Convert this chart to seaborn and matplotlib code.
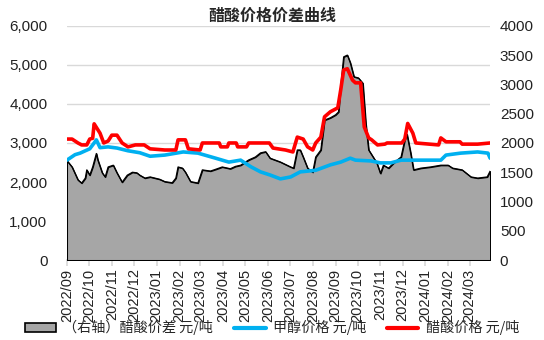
import pandas as pd
import seaborn as sns
import matplotlib
import matplotlib.pyplot as plt
import matplotlib.dates as mdates
from matplotlib.patches import Patch
from matplotlib.lines import Line2D
from matplotlib.ticker import FuncFormatter

matplotlib.use('Agg')

# 醋酸价差 (right axis)
spread_dates = [
    "2022-09-01", "2022-09-08", "2022-09-16", "2022-09-21", "2022-09-26", "2022-09-28",
    "2022-10-02", "2022-10-06", "2022-10-11", "2022-10-13", "2022-10-19", "2022-10-23",
    "2022-10-27", "2022-11-03", "2022-11-08", "2022-11-15", "2022-11-22", "2022-11-29",
    "2022-12-05", "2022-12-09", "2022-12-16", "2022-12-23", "2023-01-05", "2023-01-12",
    "2023-01-22", "2023-01-27", "2023-01-30", "2023-02-05", "2023-02-09", "2023-02-16",
    "2023-02-26", "2023-03-04", "2023-03-15", "2023-03-22", "2023-03-31", "2023-04-11",
    "2023-04-18", "2023-04-25", "2023-05-06", "2023-05-15", "2023-05-22", "2023-05-29",
    "2023-06-04", "2023-06-18", "2023-07-02", "2023-07-06", "2023-07-11", "2023-07-15",
    "2023-07-19", "2023-07-25", "2023-08-01", "2023-08-05", "2023-08-12", "2023-08-17",
    "2023-08-25", "2023-09-01", "2023-09-05", "2023-09-08", "2023-09-12", "2023-09-17",
    "2023-09-21", "2023-09-26", "2023-10-02", "2023-10-08", "2023-10-12", "2023-10-16",
    "2023-10-23", "2023-10-27", "2023-11-01", "2023-11-05", "2023-11-12", "2023-11-19",
    "2023-11-29", "2023-12-04", "2023-12-07", "2023-12-12", "2023-12-16", "2023-12-26",
    "2024-01-08", "2024-01-22", "2024-02-01", "2024-02-07", "2024-02-20", "2024-03-03",
    "2024-03-12", "2024-03-25", "2024-03-29",
]
spread_values = [
    1700, 1590, 1370, 1315, 1400, 1540,
    1450, 1590, 1820, 1710, 1490, 1420,
    1590, 1620, 1490, 1330, 1450, 1500,
    1490, 1450, 1400, 1420, 1380, 1340,
    1320, 1400, 1590, 1570, 1500, 1340,
    1315, 1540, 1520, 1550, 1590, 1560,
    1600, 1620, 1710, 1760, 1830, 1850,
    1740, 1675, 1590, 1570, 1880, 1880,
    1760, 1570, 1500, 1760, 1880, 2390,
    2430, 2480, 2530, 2960, 3470, 3500,
    3370, 3130, 3110, 3020, 2340, 1880,
    1740, 1660, 1480, 1620, 1570, 1660,
    1760, 2050, 2150, 1830, 1540, 1570,
    1590, 1620, 1620, 1570, 1540, 1420,
    1400, 1420, 1520,
]

# 甲醇价格 (left axis)
methanol_dates = [
    "2022-09-01", "2022-09-12", "2022-09-19", "2022-09-26", "2022-10-02", "2022-10-08",
    "2022-10-11", "2022-10-16", "2022-10-27", "2022-11-08", "2022-11-23", "2022-12-09",
    "2022-12-23", "2023-01-12", "2023-02-06", "2023-02-26", "2023-03-22", "2023-04-09",
    "2023-04-25", "2023-05-09", "2023-05-22", "2023-06-04", "2023-06-18", "2023-07-02",
    "2023-07-15", "2023-08-05", "2023-08-25", "2023-09-08", "2023-09-21", "2023-09-28",
    "2023-10-19", "2023-11-01", "2023-11-15", "2023-11-29", "2023-12-26", "2024-01-22",
    "2024-01-29", "2024-02-18", "2024-03-12", "2024-03-26", "2024-03-29",
]
methanol_values = [
    2560, 2700, 2740, 2800, 2850, 3000,
    3080, 2880, 2900, 2870, 2800, 2750,
    2660, 2690, 2770, 2740, 2610, 2510,
    2560, 2390, 2260, 2180, 2080, 2130,
    2260, 2300, 2440, 2510, 2610, 2560,
    2540, 2490, 2490, 2560, 2560, 2560,
    2690, 2740, 2770, 2740, 2610,
]

# 醋酸价格 (left axis)
acetic_dates = [
    "2022-09-01", "2022-09-08", "2022-09-16", "2022-09-21", "2022-09-28", "2022-10-02",
    "2022-10-06", "2022-10-08", "2022-10-11", "2022-10-16", "2022-10-21", "2022-10-27",
    "2022-11-01", "2022-11-08", "2022-11-15", "2022-11-23", "2022-12-03", "2022-12-15",
    "2022-12-23", "2023-01-12", "2023-01-27", "2023-01-30", "2023-02-09", "2023-02-13",
    "2023-03-01", "2023-03-04", "2023-03-27", "2023-03-29", "2023-04-07", "2023-04-09",
    "2023-04-19", "2023-04-21", "2023-05-03", "2023-05-06", "2023-06-03", "2023-06-08",
    "2023-06-25", "2023-07-05", "2023-07-11", "2023-07-19", "2023-07-25", "2023-08-01",
    "2023-08-05", "2023-08-12", "2023-08-17", "2023-08-25", "2023-09-04", "2023-09-08",
    "2023-09-12", "2023-09-17", "2023-09-24", "2023-09-28", "2023-10-05", "2023-10-10",
    "2023-10-16", "2023-10-20", "2023-10-28", "2023-11-07", "2023-11-10", "2023-11-30",
    "2023-12-04", "2023-12-08", "2023-12-15", "2023-12-19", "2024-01-19", "2024-01-22",
    "2024-01-29", "2024-02-17", "2024-02-20", "2024-03-12", "2024-03-29",
]
acetic_values = [
    3100, 3100, 3000, 2950, 2950, 3100,
    3120, 3490, 3400, 3250, 3000, 3050,
    3200, 3200, 3000, 2900, 2950, 2950,
    2850, 2820, 2820, 3080, 3080, 2850,
    2820, 3000, 3000, 2900, 2900, 3000,
    3000, 2900, 2900, 3000, 3000, 2870,
    2820, 2770, 3150, 3100, 2900, 2820,
    3000, 3150, 3670, 3800, 3900, 4360,
    4870, 4900, 4610, 4540, 4540, 3410,
    3130, 3080, 2950, 2970, 3000, 3000,
    3100, 3500, 3250, 3000, 2950, 3130,
    3030, 3030, 2970, 2970, 3000,
]

x_start, x_end = "2022-09-01", "2024-03-29"
left_ticks = [0, 1000, 2000, 3000, 4000, 5000, 6000]
right_ticks = [0, 500, 1000, 1500, 2000, 2500, 3000, 3500, 4000]

title = "醋酸价格价差曲线"
label_spread = "（右轴）醋酸价差 元/吨"
label_methanol = "甲醇价格 元/吨"
label_acetic = "醋酸价格 元/吨"

spread_df = pd.DataFrame({"date": pd.to_datetime(spread_dates), "value": spread_values})
methanol_df = pd.DataFrame({"date": pd.to_datetime(methanol_dates), "value": methanol_values})
acetic_df = pd.DataFrame({"date": pd.to_datetime(acetic_dates), "value": acetic_values})

sns.set_theme(style="white")
plt.rcParams['font.family'] = ['Liberation Sans', 'Noto Sans CJK SC', 'DejaVu Sans']

fig = plt.figure(figsize=(5.44, 3.40), dpi=100)
ax = fig.add_axes([0.123, 0.235, 0.778, 0.689])
ax2 = ax.twinx()   # spread area, right scale
ax3 = ax.twinx()   # price lines, left scale, drawn on top

GRAY = "#a6a6a6"
BLUE = "#00b0f0"
RED = "#ff0000"

# base axis: grid + left labels
ax.set_ylim(0, 6000)
ax.set_yticks(left_ticks)
ax.yaxis.set_major_formatter(FuncFormatter(lambda v, p: f"{int(v):,}"))
ax.grid(axis='y', color="#d9d9d9", linewidth=1)
ax.tick_params(axis='y', length=0, pad=14, labelsize=11, labelcolor="#222222")

# spread area on right axis
ax2.fill_between(spread_df["date"], spread_df["value"], 0, color=GRAY,
                 edgecolor="black", linewidth=0.9)
sns.lineplot(data=spread_df, x="date", y="value", ax=ax2, color="black", linewidth=0.9)
ax2.set_ylim(0, 4000)
ax2.set_yticks(right_ticks)
ax2.tick_params(axis='y', length=0, pad=7, labelsize=11, labelcolor="#222222")
ax2.set_ylabel("")
ax2.set_xlabel("")

# price lines on left scale
sns.lineplot(data=methanol_df, x="date", y="value", ax=ax3, color=BLUE, linewidth=2.6)
sns.lineplot(data=acetic_df, x="date", y="value", ax=ax3, color=RED, linewidth=2.6)
ax3.set_ylim(0, 6000)
ax3.set_yticks([])
ax3.set_ylabel("")
ax3.set_xlabel("")

for a in (ax, ax2, ax3):
    a.set_xlim(pd.Timestamp(x_start), pd.Timestamp(x_end))
    for s in a.spines.values():
        s.set_visible(False)
    a.patch.set_visible(False)

ax.spines['bottom'].set_visible(True)
ax.spines['bottom'].set_color("#d9d9d9")
ax.xaxis.set_major_locator(mdates.MonthLocator(bymonthday=1))
ax.xaxis.set_major_formatter(mdates.DateFormatter("%Y/%m"))
ax.tick_params(axis='x', rotation=90, labelsize=10.5, length=4, color="#d9d9d9",
               pad=2, labelcolor="#222222", bottom=True)
for a in (ax2, ax3):
    a.tick_params(axis='x', bottom=False, labelbottom=False)

fig.text(0.5, 0.93, title, ha='center', va='bottom', fontsize=11.5, fontweight='bold',
         family=['Noto Sans CJK SC'])

handles = [
    Patch(facecolor=GRAY, edgecolor="black", linewidth=1.2),
    Line2D([0], [0], color=BLUE, linewidth=3),
    Line2D([0], [0], color=RED, linewidth=3),
]
fig.legend(handles, [label_spread, label_methanol, label_acetic], loc='center',
           bbox_to_anchor=(0.5, 0.036), ncol=3, frameon=False,
           handlelength=2.2, handleheight=0.6, columnspacing=1.5, handletextpad=0.5,
           prop={'family': ['Noto Sans CJK SC'], 'size': 10.2})

fig.savefig("out.png", dpi=100)
